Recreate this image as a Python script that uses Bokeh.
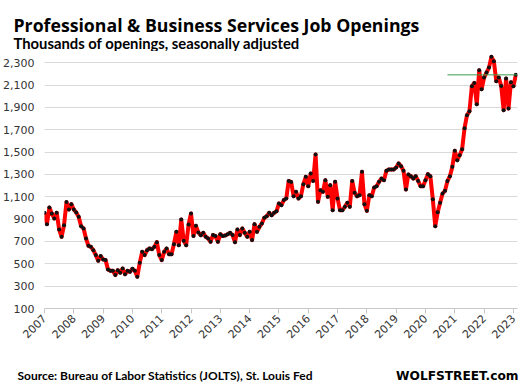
from bokeh.plotting import figure
from bokeh.layouts import column
from bokeh.models import ColumnDataSource, FixedTicker, NumeralTickFormatter, Range1d
from bokeh.embed import file_html
from bokeh.resources import INLINE
from bokeh.core.properties import value

# ---- data (thousands of job openings, monthly) ----
v2007 = [956, 855, 1004, 950, 906, 956, 807, 742, 846, 1052, 986, 1034]
v2008 = [986, 959, 920, 837, 816, 727, 661, 652, 622, 578, 527, 569]
v2009 = [539, 533, 449, 437, 437, 399, 443, 420, 458, 407, 437, 428]
v2010 = [455, 437, 384, 509, 607, 578, 622, 637, 631, 652, 694, 578]
v2011 = [533, 607, 637, 586, 586, 676, 786, 667, 897, 706, 667, 852]
v2012 = [950, 748, 840, 780, 756, 777, 742, 727, 697, 757, 748, 697]
v2013 = [765, 748, 754, 765, 777, 757, 694, 807, 757, 816, 777, 742]
v2014 = [786, 712, 855, 786, 831, 861, 912, 926, 956, 935, 956, 970]
v2015 = [1040, 1025, 1070, 1085, 1242, 1231, 1105, 1144, 1085, 1105, 1213, 1278]
v2016 = [1195, 1308, 1242, 1478, 1055, 1159, 1144, 1248, 1099, 1204, 980, 1234]
v2017 = [1085, 980, 980, 1010, 1046, 1010, 1242, 1135, 1105, 1114, 1323, 1034]
v2018 = [974, 1114, 1105, 1183, 1195, 1234, 1263, 1248, 1332, 1344, 1344, 1344]
v2019 = [1362, 1398, 1374, 1332, 1165, 1299, 1284, 1263, 1284, 1242, 1195, 1195]
v2020 = [1248, 1302, 1284, 1078, 837, 962, 1046, 1129, 1153, 1240, 1284, 1368]
v2021 = [1511, 1427, 1472, 1526, 1714, 1830, 1866, 2089, 2119, 1928, 2232, 2063]
v2022 = [2167, 2212, 2256, 2352, 2313, 2134, 2167, 2092, 1875, 2158, 1890, 2125]
v2023 = [2089, 2191]

years = list(range(2007, 2024))
yearly = [v2007, v2008, v2009, v2010, v2011, v2012, v2013, v2014, v2015,
          v2016, v2017, v2018, v2019, v2020, v2021, v2022, v2023]

y_ticks = [100, 300, 500, 700, 900, 1100, 1300, 1500, 1700, 1900, 2100, 2300]
x_ticks = years
x_tick_labels = [str(y) for y in years]

ref_start = 2020.75      # start of the horizontal "latest level" line
ref_end = 2023.14

title_text = "Professional  & Business Services Job Openings"
subtitle_text = "Thousands of openings, seasonally adjusted"
source_text = "Source: Bureau of Labor Statistics (JOLTS), St. Louis Fed"
brand_text = "WOLFSTREET.com"

W = 522
HEAD_H = 51
FOOT_H = 30
MAIN_H = 389 - HEAD_H - FOOT_H

# ---- build series ----
xs, ys = [], []
for yr, vals in zip(years, yearly):
    for i, v in enumerate(vals):
        xs.append(yr + i / 12.0)
        ys.append(v)
src = ColumnDataSource(dict(x=xs, y=ys))
ref_src = ColumnDataSource(dict(x0=[ref_start], x1=[ref_end], y=[ys[-1]]))


def text_panel(h):
    f = figure(width=W, height=h, output_backend="svg", toolbar_location=None,
               x_range=Range1d(0, W), y_range=Range1d(h, 0),
               x_axis_location=None, y_axis_location=None, title_location=None,
               min_border_left=0, min_border_right=0, min_border_top=0,
               min_border_bottom=0, frame_align=False)
    f.outline_line_color = None
    f.grid.visible = False
    f.background_fill_color = "white"
    f.border_fill_color = "white"
    return f


def add_text(f, text, x, y, size, font, align="left", style="bold"):
    f.text(x=[x], y=[y], text=[text], text_font=value(font), text_font_size=size,
           text_font_style=style, text_align=align, text_baseline="alphabetic",
           text_color="#000000")


# header
head = text_panel(HEAD_H)
add_text(head, title_text, 13, 24.5, "17.7px", "Open Sans")
add_text(head, subtitle_text, 13, 42.8, "14.8px", "Lato")

# main chart
p = figure(width=W, height=MAIN_H, output_backend="svg", toolbar_location=None,
           x_range=Range1d(2007, 2023.14), y_range=Range1d(100, 2400),
           title_location=None,
           min_border_left=43, min_border_right=5, min_border_top=0,
           min_border_bottom=MAIN_H - 257, frame_align=False)
p.outline_line_color = None
p.background_fill_color = "white"
p.border_fill_color = "white"

p.xgrid.grid_line_color = None
p.ygrid.grid_line_color = "#d9d9d9"
p.ygrid.grid_line_width = 1

p.yaxis.ticker = FixedTicker(ticks=y_ticks)
p.yaxis.formatter = NumeralTickFormatter(format="0,0")
p.yaxis.axis_line_color = None
p.yaxis.major_tick_line_color = None
p.yaxis.minor_tick_line_color = None
p.yaxis.major_tick_out = 0
p.yaxis.major_tick_in = 0
p.yaxis.major_label_standoff = 10
p.yaxis.major_label_text_font = "DejaVu Sans"
p.yaxis.major_label_text_font_size = "11px"
p.yaxis.major_label_text_color = "#333333"

p.xaxis.ticker = FixedTicker(ticks=x_ticks)
p.xaxis.major_label_overrides = {t: l for t, l in zip(x_ticks, x_tick_labels)}
p.xaxis.axis_line_color = "#c8c8c8"
p.xaxis.major_tick_line_color = "#c8c8c8"
p.xaxis.minor_tick_line_color = None
p.xaxis.major_tick_out = 5
p.xaxis.major_tick_in = 0
p.xaxis.major_label_orientation = 0.785
p.xaxis.major_label_standoff = 3
p.xaxis.major_label_text_font = "DejaVu Sans"
p.xaxis.major_label_text_font_size = "11px"
p.xaxis.major_label_text_color = "#333333"

p.line("x", "y", source=src, line_color="#ff0000", line_width=4, line_join="round")
p.scatter("x", "y", source=src, size=4, fill_color="#111111", line_color=None)
p.segment(x0="x0", y0="y", x1="x1", y1="y", source=ref_src,
          line_color="#3a9a4a", line_width=1)

# footer
foot = text_panel(FOOT_H)
add_text(foot, source_text, 17, 16, "12px", "Lato")
add_text(foot, brand_text, 518, 16, "12.2px", "DejaVu Sans", align="right")

layout = column(head, p, foot, spacing=0)
open("out.html", "w").write(file_html(layout, INLINE))
